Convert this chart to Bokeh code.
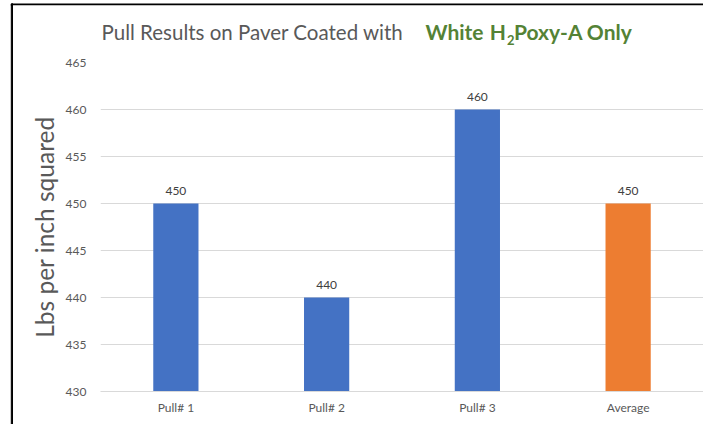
from bokeh.plotting import figure
from bokeh.layouts import column, row
from bokeh.models import FixedTicker, ColumnDataSource, Range1d
from bokeh.core.properties import value
from bokeh.embed import file_html
from bokeh.resources import INLINE

categories = ["Pull# 1", "Pull# 2", "Pull# 3", "Average"]
values = [450, 440, 460, 450]
colors = ["#4472C4", "#4472C4", "#4472C4", "#ED7D31"]
labels = ["450", "440", "460", "450"]
y_ticks = [430, 435, 440, 445, 450, 455, 460, 465]

title_plain = "Pull Results on Paver Coated with"
title_bold_1a = "White"
title_bold_1b = "H"
title_sub = "2"
title_bold_2 = "Poxy-A Only"

FONT = "Lato"
GRAY = "#595959"
GREEN = "#548235"


def blank(w, h, xr, yr):
    f = figure(width=w, height=h, x_range=xr, y_range=yr, x_axis_type=None, y_axis_type=None,
               output_backend="svg", toolbar_location=None, min_border=0)
    f.outline_line_color = None
    f.grid.visible = False
    return f


# ---- left strip with the screenshot's black border lines
strip = blank(13, 424, Range1d(0, 13), Range1d(424, 0))
strip.quad(left=[10.8], right=[12.6], top=[3.4], bottom=[424], color="black")
strip.quad(left=[10.8], right=[13], top=[3.4], bottom=[5.2], color="black")

# ---- title figure (its frame is aligned with the chart's frame: page x 100..703)
tfig = blank(690, 50, Range1d(100, 703), Range1d(50, 0))
tfig.border_fill_alpha = 0
tfig.background_fill_alpha = 0
tfig.styles = {"box-shadow": "inset 0 3.4px 0 white, inset 0 5.2px 0 black"}
tfig.text(x=[101], y=[43.5], text=[title_plain], text_font=value(FONT), text_font_size="20.5px",
          text_color=GRAY, text_baseline="bottom", text_align="left")
tfig.text(x=[425], y=[43.5], text=[title_bold_1a], text_font=value(FONT), text_font_size="21px",
          text_font_style="bold", text_color=GREEN, text_baseline="bottom", text_align="left")
tfig.text(x=[505.5], y=[43.5], text=[title_bold_1b], text_font=value(FONT), text_font_size="21px",
          text_font_style="bold", text_color=GREEN, text_baseline="bottom", text_align="right")
tfig.text(x=[506.5], y=[44.5], text=[title_sub], text_font=value(FONT), text_font_size="13px",
          text_font_style="bold", text_color=GREEN, text_baseline="bottom", text_align="left")
tfig.text(x=[632], y=[43.5], text=[title_bold_2], text_font=value(FONT), text_font_size="21px",
          text_font_style="bold", text_color=GREEN, text_baseline="bottom", text_align="right")

# ---- main chart
src = ColumnDataSource(dict(cat=categories, val=values, col=colors, lab=labels))

p = figure(x_range=categories, y_range=(430, 465), width=690, height=374,
           output_backend="svg", toolbar_location=None,
           min_border_left=87, min_border_right=0, min_border_top=12, min_border_bottom=33)
p.outline_line_color = None

p.vbar(x="cat", top="val", bottom=430, width=0.3, color="col", source=src, line_color=None)
p.text(x="cat", y="val", text="lab", source=src, text_align="center", text_baseline="bottom",
       y_offset=-9, text_font=value(FONT), text_font_size="12px", text_color="#404040")

p.xgrid.grid_line_color = None
p.ygrid.grid_line_color = "#D9D9D9"
p.yaxis.ticker = FixedTicker(ticks=y_ticks)
p.yaxis.axis_line_color = None
p.yaxis.major_tick_line_color = None
p.yaxis.minor_tick_line_color = None
p.yaxis.major_tick_out = 0
p.yaxis.minor_tick_out = 0
p.yaxis.major_label_standoff = 14
p.yaxis.major_label_text_font = FONT
p.yaxis.major_label_text_font_size = "12px"
p.yaxis.major_label_text_color = GRAY
p.yaxis.axis_label = "Lbs per inch squared"
p.yaxis.axis_label_text_font = FONT
p.yaxis.axis_label_text_font_size = "24.5px"
p.yaxis.axis_label_text_font_style = "normal"
p.yaxis.axis_label_text_color = GRAY
p.yaxis.axis_label_standoff = 4

p.xaxis.axis_line_color = "#D9D9D9"
p.xaxis.major_tick_line_color = None
p.xaxis.minor_tick_line_color = None
p.xaxis.major_tick_out = 0
p.xaxis.minor_tick_out = 0
p.xaxis.major_label_standoff = 8
p.xaxis.major_label_text_font = FONT
p.xaxis.major_label_text_font_size = "12px"
p.xaxis.major_label_text_color = GRAY

layout = row(strip, column(tfig, p, spacing=0), spacing=0)

open("out.html", "w").write(file_html(layout, INLINE))
